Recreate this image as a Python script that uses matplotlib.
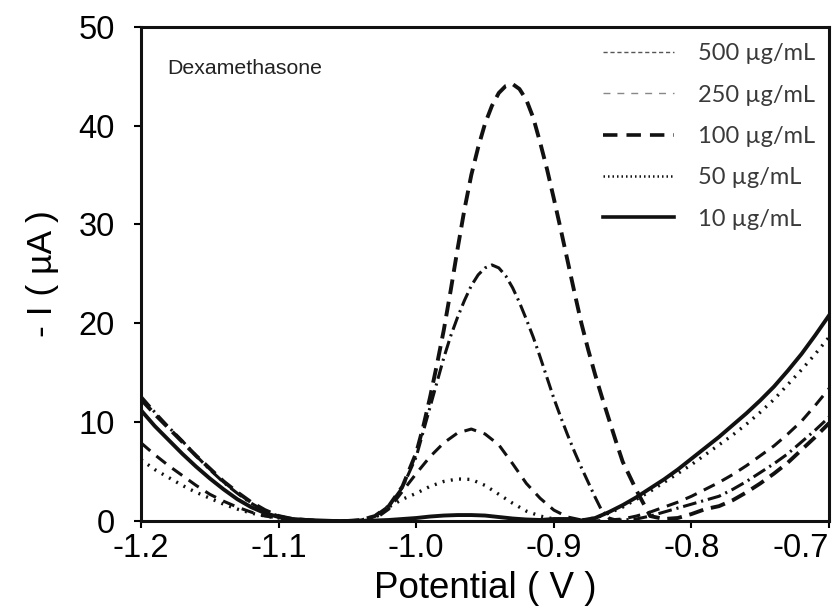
import matplotlib
matplotlib.use("Agg")
import matplotlib.pyplot as plt
from matplotlib.lines import Line2D
import matplotlib.transforms as mtransforms

# potential grid (V), 0.01 V steps from -1.20 to -0.70
potential = [round(-1.20 + 0.01 * i, 2) for i in range(51)]
# finer grid across the two big peaks, -1.000 to -0.850 in 0.005 V steps
peak_potential = [round(-1.000 + 0.005 * i, 3) for i in range(31)]

# - I (uA)
# 500 ug/mL: left part (-1.20..-1.01), peak part (fine grid), right part (-0.84..-0.70)
i_500_left = [12.3, 10.8, 9.4, 8.0, 6.6, 5.3, 4.0, 2.9, 1.9, 1.1,
              0.5, 0.2, 0.1, 0.0, 0.0, 0.0, 0.1, 0.5, 1.5, 3.5]
i_500_peak = [6.9, 9.5, 12.5, 15.8, 19.3, 23.3, 27.5, 31.5, 35.0, 37.8,
              40.2, 42.0, 43.3, 44.0, 44.2, 43.7, 42.6, 40.8, 38.3, 35.6,
              32.6, 29.5, 26.3, 23.1, 20.0, 17.3, 14.8, 12.5, 10.3, 8.1, 6.0]
i_500_right = [3.1, 0.5, 0.2, 0.3, 0.7, 1.2, 1.5, 2.1, 2.9, 3.8,
               4.8, 5.9, 7.2, 8.5, 9.9]

i_250_left = [12.6, 11.0, 9.5, 8.1, 6.6, 5.2, 3.9, 2.8, 1.8, 1.0,
              0.5, 0.2, 0.1, 0.0, 0.0, 0.0, 0.1, 0.5, 1.5, 3.4]
i_250_peak = [6.5, 9.0, 11.5, 14.0, 16.5, 18.7, 20.6, 22.3, 23.8, 24.9,
              25.6, 25.9, 25.6, 24.8, 23.6, 22.1, 20.4, 18.6, 16.6, 14.5,
              12.4, 10.5, 8.7, 7.0, 5.4, 3.9, 2.4, 1.0, 0.3, 0.1, 0.1]
i_250_right = [0.2, 0.5, 0.9, 1.3, 1.7, 2.1, 2.5, 3.2, 4.0, 4.9,
               5.8, 6.8, 8.0, 9.2, 10.5]

i_100 = [7.9, 6.7, 5.6, 4.6, 3.6, 2.7, 2.0, 1.4, 0.9, 0.5,
         0.3, 0.1, 0.0, 0.0, 0.0, 0.0, 0.0, 0.2, 1.2, 3.0,
         4.8, 6.5, 7.9, 8.9, 9.3, 8.8, 7.7, 5.8, 3.8, 2.3,
         1.1, 0.4, 0.1, 0.0, 0.1, 0.2, 0.5, 0.9, 1.4, 1.9,
         2.5, 3.2, 3.9, 4.7, 5.6, 6.6, 7.6, 8.8, 10.1, 11.7, 13.4]
i_50 = [6.2, 5.2, 4.4, 3.6, 2.9, 2.3, 1.7, 1.2, 0.8, 0.5,
        0.3, 0.1, 0.05, 0.0, 0.0, 0.0, 0.0, 0.3, 1.4, 2.2,
        2.8, 3.5, 4.0, 4.25, 4.2, 3.6, 2.7, 1.8, 1.0, 0.5,
        0.2, 0.1, 0.1, 0.3, 0.8, 1.4, 2.2, 3.0, 3.9, 4.8,
        5.7, 6.7, 7.7, 8.7, 9.8, 11.0, 12.3, 13.8, 15.3, 16.9, 18.6]
i_10 = [11.2, 9.6, 8.2, 6.8, 5.5, 4.3, 3.2, 2.2, 1.4, 0.8,
        0.4, 0.2, 0.1, 0.05, 0.0, 0.0, 0.0, 0.05, 0.1, 0.2,
        0.3, 0.45, 0.55, 0.6, 0.6, 0.55, 0.4, 0.25, 0.15, 0.1,
        0.2, 0.2, 0.05, 0.3, 0.9, 1.6, 2.4, 3.3, 4.2, 5.2,
        6.3, 7.4, 8.5, 9.7, 10.9, 12.2, 13.6, 15.2, 16.9, 18.8, 20.8]

labels = ["500 µg/mL", "250 µg/mL", "100 µg/mL", "50 µg/mL", "10 µg/mL"]

xticks = [-1.2, -1.1, -1.0, -0.9, -0.8, -0.7]
xticklabels = ["-1.2", "-1.1", "-1.0", "-0.9", "-0.8", "-0.7"]
yticks = [0, 10, 20, 30, 40, 50]

# stitch the fine peak section between the coarse ends
x_big = potential[:20] + peak_potential + potential[36:]
y_500 = i_500_left + i_500_peak + i_500_right
y_250 = i_250_left + i_250_peak + i_250_right

fig = plt.figure(figsize=(8.32, 6.14), dpi=100)
ax = fig.add_axes([0.1695, 0.1515, 0.827, 0.805])

k = "#111111"
ax.plot(x_big, y_500, color=k, lw=2.8, linestyle=(0, (3.8, 2.0)))
ax.plot(x_big, y_250, color=k, lw=2.2, linestyle=(0, (4.5, 1.6, 0.7, 1.6)))
ax.plot(potential, i_100, color=k, lw=2.2, linestyle=(0, (4.0, 2.6)))
ax.plot(potential, i_50, color=k, lw=2.4, linestyle=(0, (0.6, 1.9)))
ax.plot(potential, i_10, color=k, lw=2.8, linestyle="-")

ax.set_xlim(-1.2, -0.7)
ax.set_ylim(0, 50)
ax.set_xticks(xticks)
ax.set_xticklabels(xticklabels)
ax.set_yticks(yticks)

font = "Liberation Sans"
for lab in ax.get_xticklabels() + ax.get_yticklabels():
    lab.set_fontfamily(font)
    lab.set_fontsize(23.5)
ax.tick_params(axis="both", direction="out", length=5, width=1.5)
ax.tick_params(axis="x", pad=4)
ax.tick_params(axis="y", pad=14)
for s in ax.spines.values():
    s.set_linewidth(2.2)
    s.set_color(k)

# last x label sits a bit to the left, as in the original
last = ax.get_xticklabels()[-1]
last.set_transform(last.get_transform() +
                   mtransforms.ScaledTranslation(-28 / 100, 0, fig.dpi_scale_trans))

ax.set_xlabel("Potential ( V )", fontfamily=font, fontsize=26.5, labelpad=5)
ax.set_ylabel("- I ( µA )", fontfamily=font, fontsize=25.5, labelpad=14)

ax.text(0.038, 0.905, "Dexamethasone", transform=ax.transAxes,
        fontfamily=font, fontsize=15.3, color="#222222")

# legend handles as drawn in the original figure
handles = [
    Line2D([], [], color="#555555", lw=1.0, linestyle=(0, (3, 2))),
    Line2D([], [], color="#888888", lw=1.0, linestyle=(0, (5, 5))),
    Line2D([], [], color=k, lw=2.6, linestyle=(0, (4, 2.5))),
    Line2D([], [], color=k, lw=1.8, linestyle=(0, (0.6, 1.2))),
    Line2D([], [], color=k, lw=2.6, linestyle="-"),
]
leg = ax.legend(handles, labels, loc="upper right", bbox_to_anchor=(1.0, 0.995),
                frameon=False, handlelength=3.0, handletextpad=1.0,
                labelspacing=0.86, borderaxespad=0.2,
                prop={"family": "Lato", "size": 17})
for t in leg.get_texts():
    t.set_color("#3a3a3a")

fig.savefig("out.png", dpi=100)
